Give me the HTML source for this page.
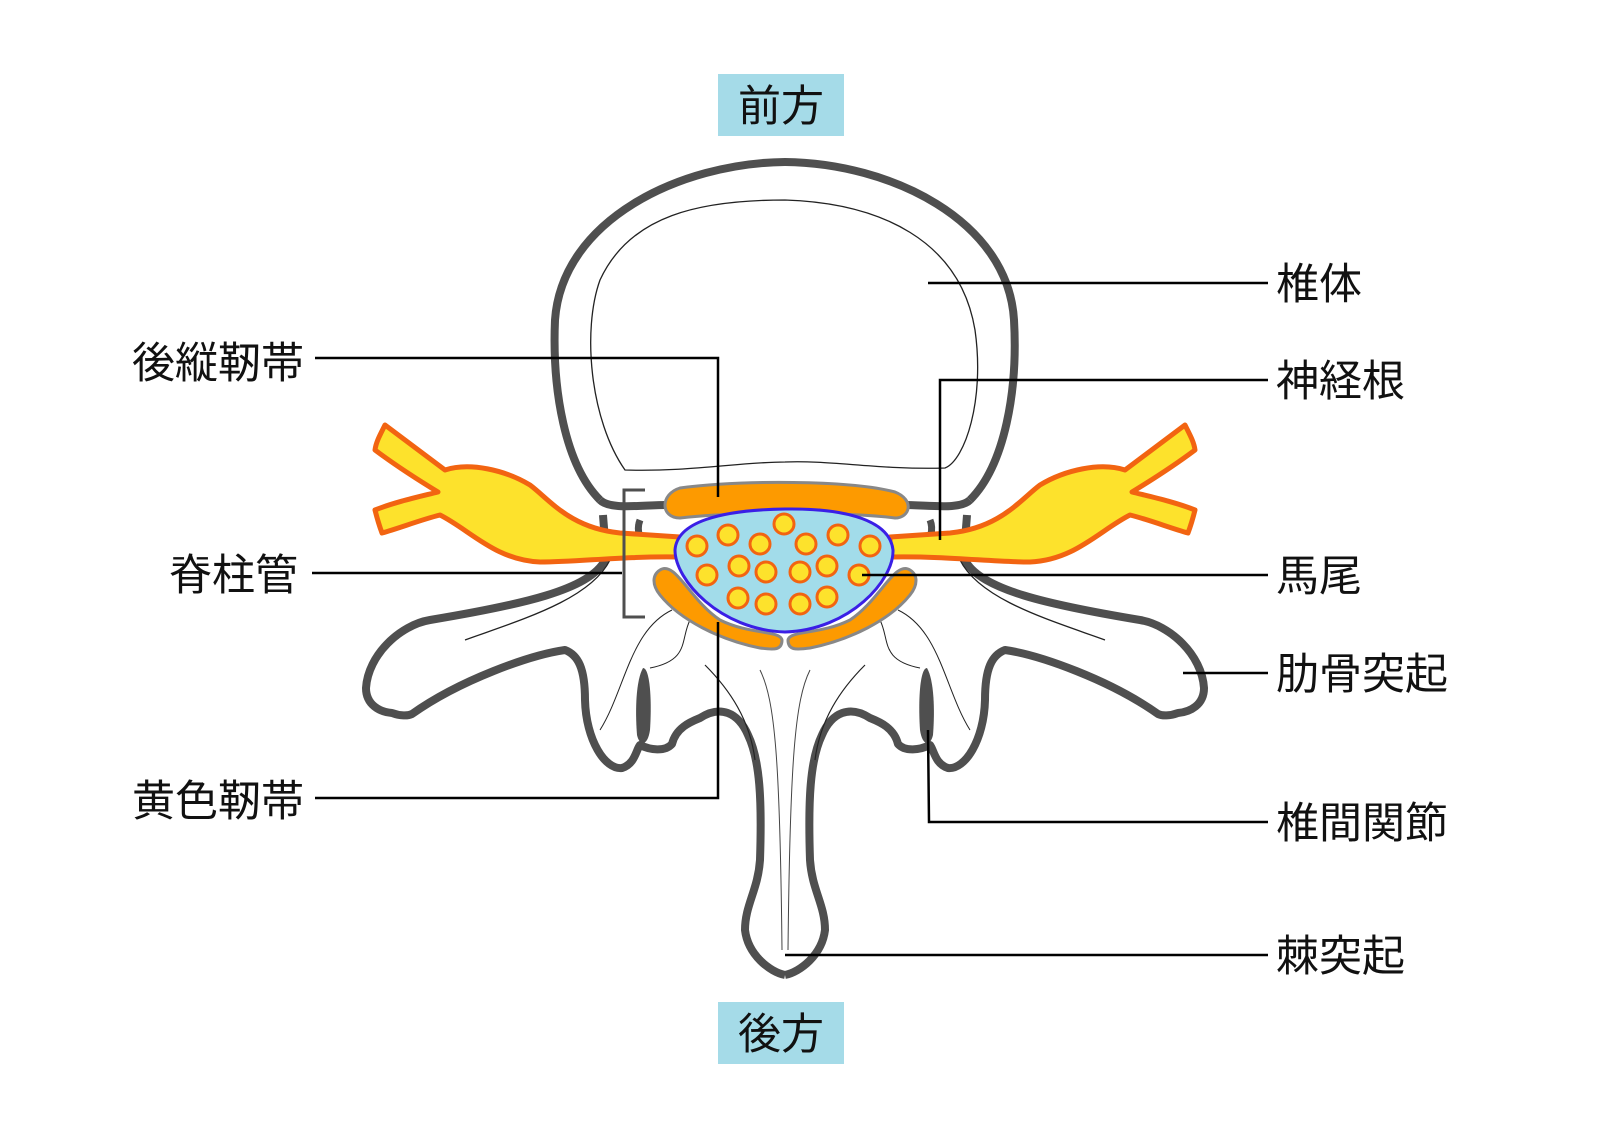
<!DOCTYPE html>
<html><head><meta charset="utf-8"><style>
html,body{margin:0;padding:0;background:#fff;}
svg{display:block;}
text{font-family:"Liberation Sans","Noto Sans CJK JP",sans-serif;font-size:43px;fill:#111;}
</style></head><body>
<svg width="1600" height="1131" viewBox="0 0 1600 1131" xmlns="http://www.w3.org/2000/svg">
<rect width="1600" height="1131" fill="#fff"/>
<rect x="718" y="74" width="126" height="62" fill="#a5dbe8"/>
<text x="781" y="121" text-anchor="middle">前方</text>
<rect x="718" y="1002" width="126" height="62" fill="#a5dbe8"/>
<text x="781" y="1049" text-anchor="middle">後方</text>

<path d="M600,500 C565,465 552,390 555,320 C562,220 680,163 785,162 C890,163 1008,220 1014,320 C1018,390 1005,465 970,500" fill="#fff" stroke="#4f4f4f" stroke-width="8"/>
<path d="M625,470 C590,420 582,330 600,280 C630,215 700,200 785,200 C880,203 960,240 975,330 C985,400 965,460 945,468 C880,470 830,460 785,462 C740,462 690,472 625,470 Z" fill="none" stroke="#222" stroke-width="1.3"/>

<g id="half">
<path d="M600,500 C610,510 640,505 668,505 M603,515 C604,530 606,545 605,560 C590,590 520,605 430,620 C400,625 368,655 366,688 C366,705 380,712 392,713 C400,716 408,716 412,714 C460,680 530,655 565,650 C578,655 585,668 585,700 C586,740 605,770 622,768 C635,764 636,750 640,745 C650,750 665,752 672,744 C676,728 690,722 700,718 C720,705 738,712 748,735 C760,760 762,800 760,860 C758,890 745,905 745,930 C748,955 770,972 785,975" fill="none" stroke="#4f4f4f" stroke-width="8" stroke-linejoin="round"/>
<path d="M640,520 C636,530 640,540 645,545" fill="none" stroke="#4f4f4f" stroke-width="7"/>
<path d="M643,668 C650,668 652,700 650,730 C648,745 640,748 637,735 C635,710 636,680 643,668 Z" fill="#4f4f4f"/>
<path d="M610,560 C590,600 520,620 465,640" fill="none" stroke="#222" stroke-width="1.3"/>
<path d="M672,610 C630,630 625,690 600,730" fill="none" stroke="#222" stroke-width="1"/>
<path d="M690,620 C680,640 690,660 650,668" fill="none" stroke="#222" stroke-width="1"/>
<path d="M705,665 C730,690 750,720 755,760" fill="none" stroke="#222" stroke-width="1.2"/>
<path d="M760,670 C775,700 780,760 782,950" fill="none" stroke="#444" stroke-width="1"/>
</g>
<use href="#half" transform="translate(1570,0) scale(-1,1)"/>

<g id="root">
<path d="M680,537 L620,533 C570,528 550,500 530,485 C505,470 470,462 445,470 C425,455 405,440 385,425 C380,435 376,442 375,450 C395,465 415,478 438,492 C418,497 395,502 375,510 C377,518 379,525 382,533 C400,528 420,520 440,515 C470,530 495,560 540,562 C580,562 620,556 680,557 Z" fill="#fde22c" stroke="#f26411" stroke-width="5" stroke-linejoin="round"/>
</g>
<use href="#root" transform="translate(1570,0) scale(-1,1)"/>

<path d="M680,488 C740,480 850,480 895,492 C915,500 910,518 895,518 C850,512 730,512 680,518 C660,518 660,494 680,488 Z" fill="#fd9a00" stroke="#888" stroke-width="3"/>
<path d="M660,570 C675,560 690,600 720,620 C750,635 780,630 782,640 C782,650 775,650 760,648 C720,640 680,620 660,595 C652,585 652,575 660,570 Z" fill="#fd9a00" stroke="#888" stroke-width="3"/>
<path d="M910,570 C895,560 880,600 850,620 C820,635 790,630 788,640 C788,650 795,650 810,648 C850,640 890,620 910,595 C918,585 918,575 910,570 Z" fill="#fd9a00" stroke="#888" stroke-width="3"/>
<path d="M785,509 C850,508 890,522 893,550 C894,580 850,630 785,632 C720,630 675,580 675,550 C677,522 720,510 785,509 Z" fill="#a2dcea" stroke="#3a1fe6" stroke-width="3"/>
<g fill="#fde22c" stroke="#f26411" stroke-width="3">
<circle cx="697" cy="546" r="10"/><circle cx="728" cy="535" r="10"/><circle cx="760" cy="544" r="10"/><circle cx="784" cy="524" r="10"/><circle cx="806" cy="544" r="10"/><circle cx="838" cy="535" r="10"/><circle cx="870" cy="546" r="10"/>
<circle cx="707" cy="575" r="10"/><circle cx="739" cy="566" r="10"/><circle cx="766" cy="572" r="10"/><circle cx="800" cy="572" r="10"/><circle cx="827" cy="566" r="10"/><circle cx="859" cy="575" r="10"/>
<circle cx="738" cy="598" r="10"/><circle cx="766" cy="604" r="10"/><circle cx="800" cy="604" r="10"/><circle cx="827" cy="597" r="10"/>
</g>

<path d="M645,490 H624 V617 H645" fill="none" stroke="#4f4f4f" stroke-width="3"/>

<g fill="none" stroke="#000" stroke-width="2.5">
<path d="M928,283 H1268"/>
<path d="M940,540 V380 H1268"/>
<path d="M862,575 H1268"/>
<path d="M1183,673 H1268"/>
<path d="M928,730 L929,822 H1268"/>
<path d="M785,955 H1268"/>
<path d="M315,358 H718 V497"/>
<path d="M312,573 H622"/>
<path d="M315,798 H718 V622"/>
</g>

<text x="1276" y="299">椎体</text>
<text x="1276" y="396">神経根</text>
<text x="1276" y="591">馬尾</text>
<text x="1276" y="689">肋骨突起</text>
<text x="1276" y="838">椎間関節</text>
<text x="1276" y="971">棘突起</text>
<text x="304" y="378" text-anchor="end">後縦靭帯</text>
<text x="298" y="590" text-anchor="end">脊柱管</text>
<text x="304" y="816" text-anchor="end">黄色靭帯</text>
</svg>
</body></html>
